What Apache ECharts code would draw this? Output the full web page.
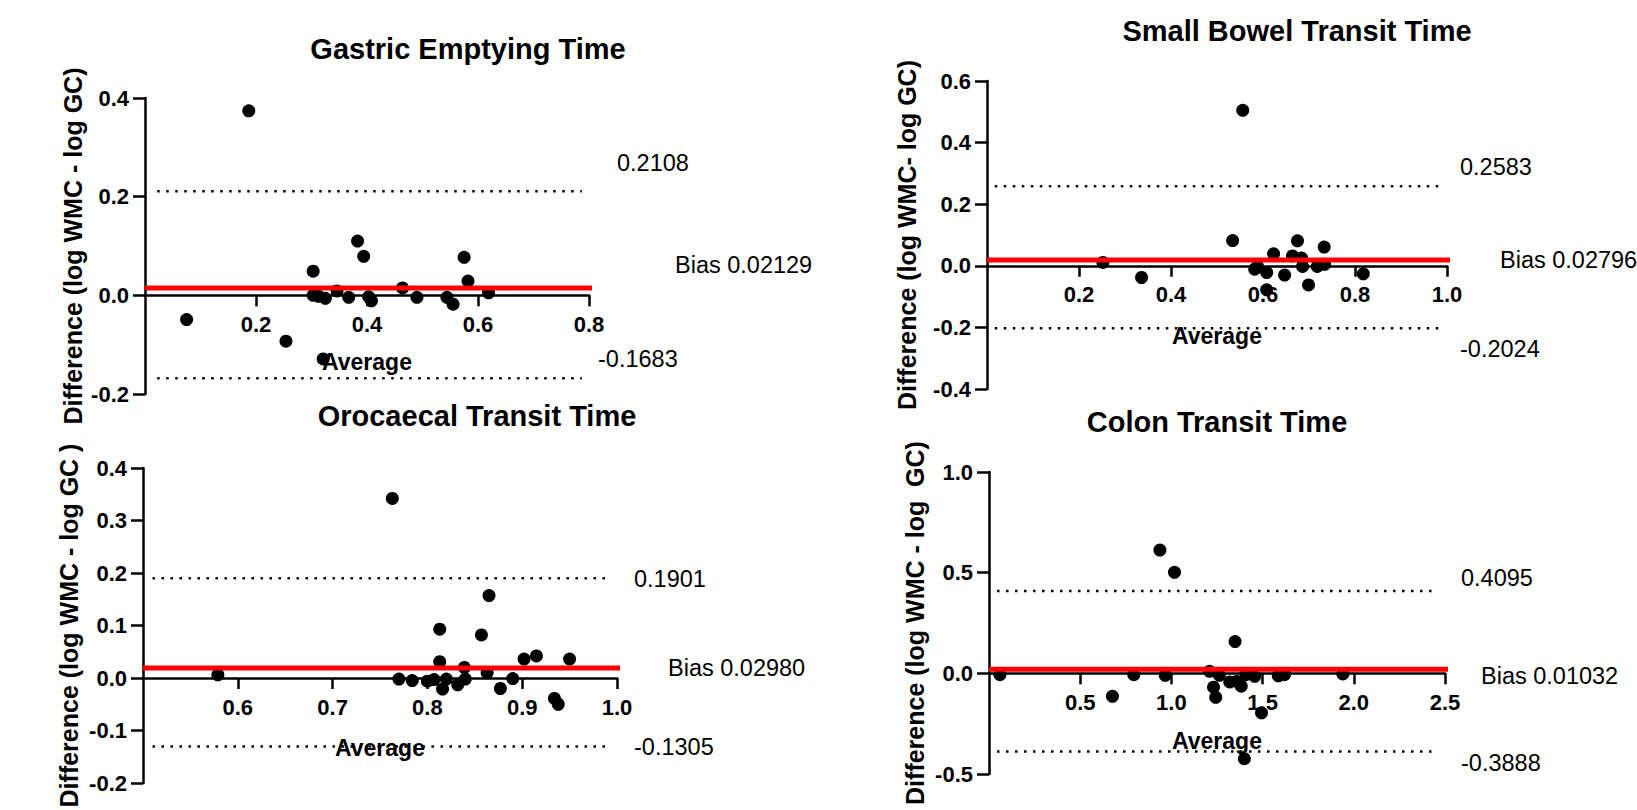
<!DOCTYPE html>
<html>
<head>
<meta charset="UTF-8">
<title>WMC vs GC agreement</title>
<script src="https://cdn.jsdelivr.net/npm/echarts@6/dist/echarts.min.js"></script>
<style>html,body{margin:0;padding:0;background:#fff;}</style>
</head>
<body>
<div id="main" style="width:1637px;height:810px;"></div>
<script>
// ---- data ----
var titles = ['Gastric Emptying Time', 'Small Bowel Transit Time', 'Orocaecal Transit Time', 'Colon Transit Time'];
var yNames = ['Difference (log WMC - log GC)', 'Difference (log WMC- log GC)', 'Difference (log WMC - log GC )', 'Difference (log WMC - log  GC)'];
var xName = 'Average';

var geX = [0.187, 0.075, 0.254, 0.321, 0.303, 0.303, 0.313, 0.325, 0.346, 0.367, 0.383, 0.394, 0.403, 0.408, 0.464, 0.490, 0.544, 0.555, 0.575, 0.582, 0.619];
var geY = [0.374, -0.049, -0.093, -0.129, 0.049, 0.000, -0.002, -0.006, 0.009, -0.004, 0.110, 0.079, -0.003, -0.011, 0.015, -0.004, -0.004, -0.018, 0.077, 0.029, 0.005];

var sbX = [0.556, 0.534, 0.252, 0.336, 0.582, 0.588, 0.608, 0.608, 0.623, 0.647, 0.664, 0.675, 0.684, 0.686, 0.699, 0.718, 0.733, 0.734, 0.818];
var sbY = [0.505, 0.082, 0.011, -0.038, -0.011, -0.002, -0.022, -0.078, 0.039, -0.030, 0.032, 0.081, 0.025, -0.002, -0.062, -0.002, 0.061, 0.005, -0.026];

var ocX = [0.763, 0.579, 0.770, 0.784, 0.800, 0.807, 0.813, 0.813, 0.816, 0.820, 0.832, 0.839, 0.840, 0.857, 0.863, 0.865, 0.877, 0.890, 0.902, 0.915, 0.934, 0.938, 0.950];
var ocY = [0.342, 0.006, -0.002, -0.005, -0.006, -0.003, 0.093, 0.031, -0.021, -0.002, -0.013, 0.020, -0.002, 0.082, 0.010, 0.157, -0.020, -0.001, 0.036, 0.042, -0.039, -0.050, 0.036];

var ctX = [0.937, 1.017, 0.060, 0.677, 0.794, 0.966, 1.209, 1.231, 1.243, 1.263, 1.320, 1.349, 1.357, 1.383, 1.400, 1.409, 1.457, 1.494, 1.586, 1.620, 1.940];
var ctY = [0.612, 0.502, -0.007, -0.114, -0.007, -0.010, 0.010, -0.069, -0.119, -0.010, -0.043, 0.158, -0.040, -0.064, -0.424, -0.007, -0.015, -0.196, -0.012, -0.007, -0.003];

var upperLoA = [0.2108, 0.2583, 0.1901, 0.4095];
var lowerLoA = [-0.1683, -0.2024, -0.1305, -0.3888];
var biasText = ['Bias 0.02129', 'Bias 0.02796', 'Bias 0.02980', 'Bias 0.01032'];
var biasDrawn = [0.015, 0.019, 0.019, 0.020];   // where the red line sits in the figure
var limitSpan = [[0.022, 0.787], [0.017, 0.985], [0.51, 0.99], [0.044, 2.456]];
var biasSpan = [[0, 0.921], [0, 1.061], [0.5, 1.02], [0, 2.61]];

var xMin = [0, 0, 0.5, 0], xMax = [0.8, 1.0, 1.0, 2.5], xStep = [0.2, 0.2, 0.1, 0.5];
var yMin = [-0.2, -0.4, -0.2, -0.5], yMax = [0.4, 0.6, 0.4, 1.0], yStep = [0.2, 0.2, 0.1, 0.5];

var pointsX = [geX, sbX, ocX, ctX];
var pointsY = [geY, sbY, ocY, ctY];

// ---- layout (pixels) ----
var layout = [
  { grid: { left: 145, top: 98, width: 444, height: 296 }, yGap: 60, xGap: 55, title: [468, 49], up: [617, 163], bias: [675, 265], low: [598, 359] },
  { grid: { left: 987, top: 81, width: 460, height: 308 }, yGap: 68, xGap: 59, title: [1297, 31], up: [1460, 167], bias: [1500, 260], low: [1460, 349] },
  { grid: { left: 143, top: 468, width: 474, height: 315 }, yGap: 62, xGap: 58, title: [477, 416], up: [634, 579], bias: [668, 668], low: [634, 747] },
  { grid: { left: 989, top: 472, width: 456, height: 302 }, yGap: 62, xGap: 56, title: [1217, 422], up: [1461, 578], bias: [1481, 676], low: [1461, 763] }
];

var FONT = '"Liberation Sans", Arial, Helvetica, sans-serif';
var AXIS_W = 2.5;

function fmt(v) { return v.toFixed(1); }

var grids = [], xAxes = [], yAxes = [], series = [], graphics = [];

for (var i = 0; i < 4; i++) {
  var g = layout[i].grid;
  var main = 2 * i, ax = 2 * i + 1;
  // full plotting box
  grids.push({ left: g.left, top: g.top, width: g.width, height: g.height, containLabel: false, outerBoundsMode: 'none' });
  // box whose bottom edge sits on y = 0, only carries the visible x axis
  var zeroH = g.height * yMax[i] / (yMax[i] - yMin[i]);
  grids.push({ left: g.left, top: g.top, width: g.width, height: zeroH, containLabel: false, outerBoundsMode: 'none' });

  xAxes.push({ type: 'value', gridIndex: main, min: xMin[i], max: xMax[i], show: false });
  xAxes.push({
    type: 'value', gridIndex: ax,
    min: xMin[i], max: xMax[i], interval: xStep[i],
    name: xName, nameLocation: 'middle', nameGap: layout[i].xGap, nameMoveOverlap: false,
    nameTextStyle: { color: '#000', fontSize: 23, fontWeight: 'bold', fontFamily: FONT },
    axisLine: { onZero: false, lineStyle: { color: '#000', width: AXIS_W } },
    axisTick: { length: 11, lineStyle: { color: '#000', width: AXIS_W } },
    axisLabel: { showMinLabel: false, margin: 18, formatter: fmt, color: '#000', fontSize: 22, fontWeight: 'bold', fontFamily: FONT },
    splitLine: { show: false }
  });

  yAxes.push({
    type: 'value', gridIndex: main,
    min: yMin[i], max: yMax[i], interval: yStep[i],
    name: yNames[i], nameLocation: 'middle', nameRotate: 90, nameGap: layout[i].yGap, nameMoveOverlap: false,
    nameTextStyle: { color: '#000', fontSize: 25, fontWeight: 'bold', fontFamily: FONT },
    axisLine: { onZero: false, lineStyle: { color: '#000', width: AXIS_W } },
    axisTick: { length: 12, lineStyle: { color: '#000', width: AXIS_W } },
    axisLabel: { margin: 16, formatter: fmt, color: '#000', fontSize: 22, fontWeight: 'bold', fontFamily: FONT },
    splitLine: { show: false }
  });
  yAxes.push({ type: 'value', gridIndex: ax, min: 0, max: 1, show: false });

  var pts = [];
  for (var k = 0; k < pointsX[i].length; k++) pts.push([pointsX[i][k], pointsY[i][k]]);

  series.push({
    type: 'scatter', xAxisIndex: main, yAxisIndex: main, data: pts,
    symbol: 'circle', symbolSize: 13, itemStyle: { color: '#000', opacity: 1 }, z: 3, silent: true
  });

  [upperLoA[i], lowerLoA[i]].forEach(function (v) {
    series.push({
      type: 'line', xAxisIndex: main, yAxisIndex: main,
      data: [[limitSpan[i][0], v], [limitSpan[i][1], v]],
      symbol: 'none', clip: false, silent: true, z: 2,
      lineStyle: { color: '#000', width: 2.5, type: [2.5, 6.5], cap: 'butt' }
    });
  });

  series.push({
    type: 'line', xAxisIndex: main, yAxisIndex: main,
    data: [[biasSpan[i][0], biasDrawn[i]], [biasSpan[i][1], biasDrawn[i]]],
    symbol: 'none', clip: false, silent: true, z: 4,
    lineStyle: { color: '#ff0000', width: 5 }
  });

  graphics.push({
    type: 'text', x: layout[i].title[0], y: layout[i].title[1], silent: true,
    style: { text: titles[i], font: 'bold 29px ' + FONT, fill: '#000', align: 'center', verticalAlign: 'middle', textAlign: 'center', textVerticalAlign: 'middle' }
  });
  var ann = [[upperLoA[i].toFixed(4), layout[i].up], [biasText[i], layout[i].bias], [lowerLoA[i].toFixed(4), layout[i].low]];
  ann.forEach(function (a) {
    graphics.push({
      type: 'text', x: a[1][0], y: a[1][1], silent: true,
      style: { text: a[0], font: '23.5px ' + FONT, fill: '#000', align: 'left', verticalAlign: 'middle', textAlign: 'left', textVerticalAlign: 'middle' }
    });
  });
}

var myChart = echarts.init(document.getElementById('main'), null, { renderer: 'svg' });
myChart.setOption({
  backgroundColor: '#fff',
  animation: false,
  grid: grids,
  xAxis: xAxes,
  yAxis: yAxes,
  series: series,
  graphic: graphics
});
</script>
</body>
</html>
